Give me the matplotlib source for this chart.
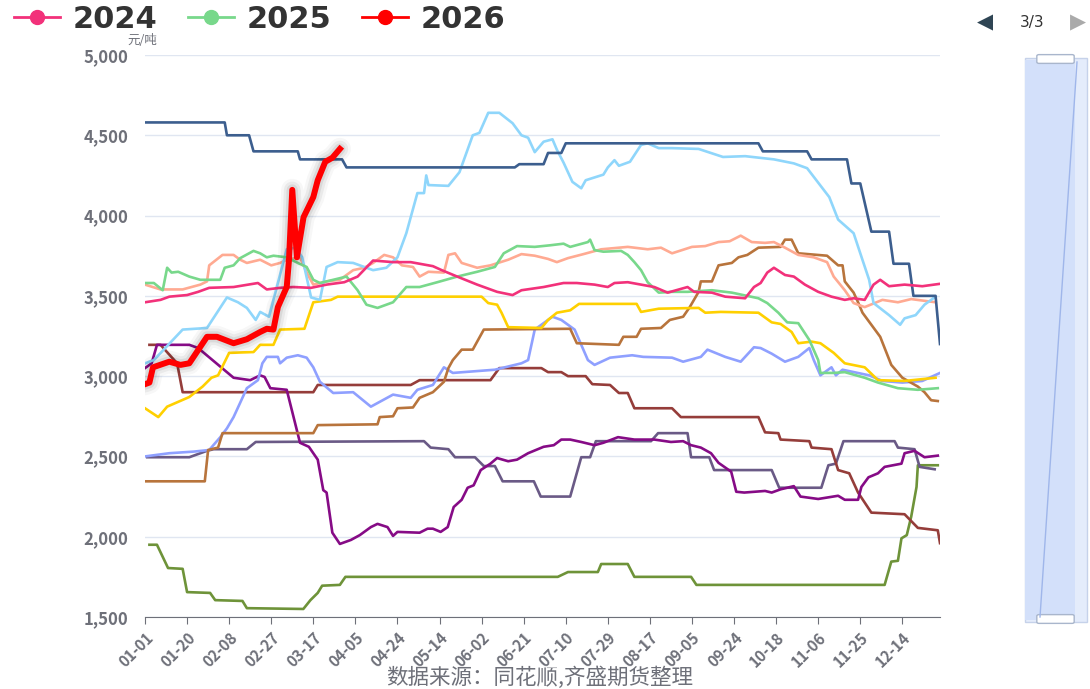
import matplotlib
matplotlib.use("Agg")
import matplotlib.pyplot as plt
from matplotlib.lines import Line2D
from matplotlib.patches import Rectangle, FancyBboxPatch

plt.rcParams['font.family'] = ['Noto Sans CJK SC', 'DejaVu Sans']

# x = trading-day index from 01-01 (360 categories), y = price (元/吨)
tick_pos = [0, 19, 38, 57, 76, 95, 114, 133, 152, 171, 190, 209, 228, 247, 266, 285, 304, 323, 342]
tick_labels = ['01-01', '01-20', '02-08', '02-27', '03-17', '04-05', '04-24', '05-14', '06-02',
               '06-21', '07-10', '07-29', '08-17', '09-05', '09-24', '10-18', '11-06', '11-25', '12-14']

navy = [(0, 4580), (36, 4580), (37, 4500), (47, 4500), (49, 4400), (69, 4400), (70, 4350), (89, 4350),
        (91, 4300), (167, 4300), (169, 4320), (180, 4320), (182, 4390), (188, 4390), (190, 4450),
        (277, 4450), (279, 4400), (299, 4400), (301, 4350), (317, 4350), (319, 4200), (323, 4200),
        (328, 3900), (336, 3900), (338, 3700), (345, 3700), (347, 3500), (357, 3500), (359, 3200)]

sky = [(0, 3080), (4, 3100), (17, 3290), (28, 3300), (37, 3490), (42, 3460), (46, 3425), (50, 3350),
       (52, 3400), (56, 3370), (64, 3790), (68, 3800), (71, 3740), (75, 3490), (79, 3475), (82, 3680),
       (87, 3710), (94, 3705), (103, 3660), (109, 3675), (114, 3740), (118, 3890), (123, 4140),
       (126, 4140), (127, 4250), (128, 4190), (137, 4185), (142, 4270), (148, 4500), (151, 4515),
       (155, 4640), (160, 4640), (166, 4575), (170, 4500), (173, 4485), (176, 4395), (180, 4460),
       (184, 4475), (186, 4410), (189, 4330), (193, 4210), (197, 4170), (199, 4220), (207, 4255),
       (209, 4300), (212, 4345), (214, 4310), (219, 4335), (224, 4440), (227, 4450), (232, 4420),
       (238, 4420), (250, 4415), (261, 4365), (271, 4370), (284, 4350), (293, 4325), (299, 4295),
       (304, 4205), (309, 4115), (313, 3975), (320, 3890), (323, 3765), (327, 3600), (329, 3455),
       (336, 3380), (341, 3320), (343, 3360), (348, 3380), (352, 3445), (357, 3495)]

salmon = [(0, 3570), (7, 3540), (17, 3540), (25, 3570), (28, 3590), (29, 3690), (35, 3755), (40, 3755),
          (43, 3725), (46, 3705), (52, 3725), (57, 3690), (61, 3705), (64, 3725), (70, 3740), (73, 3645),
          (76, 3570), (82, 3590), (88, 3600), (94, 3660), (99, 3675), (103, 3705), (108, 3755),
          (112, 3740), (116, 3690), (121, 3680), (124, 3620), (128, 3650), (135, 3645), (137, 3755),
          (140, 3765), (143, 3705), (150, 3675), (156, 3690), (164, 3725), (170, 3760), (176, 3750),
          (182, 3730), (186, 3710), (191, 3735), (198, 3760), (206, 3790), (218, 3805), (227, 3790),
          (233, 3800), (238, 3765), (247, 3805), (253, 3810), (259, 3835), (264, 3840), (269, 3875),
          (274, 3835), (280, 3830), (284, 3835), (289, 3800), (295, 3755), (302, 3740), (308, 3710),
          (311, 3620), (316, 3535), (320, 3455), (325, 3430), (333, 3475), (340, 3460), (346, 3480),
          (357, 3460)]

pink_2024 = [(0, 3460), (7, 3475), (11, 3495), (19, 3505), (24, 3525), (29, 3550), (40, 3555), (51, 3580),
             (55, 3540), (61, 3550), (67, 3555), (75, 3550), (82, 3570), (90, 3585), (96, 3620), (103, 3720),
             (112, 3710), (120, 3710), (130, 3685), (134, 3660), (141, 3620), (150, 3570), (159, 3525),
             (166, 3505), (170, 3535), (180, 3555), (189, 3580), (195, 3580), (203, 3570), (209, 3555),
             (212, 3580), (218, 3585), (224, 3570), (230, 3555), (236, 3520), (245, 3555), (248, 3525),
             (256, 3520), (262, 3495), (271, 3485), (275, 3555), (278, 3580), (281, 3645), (284, 3675),
             (289, 3630), (293, 3620), (298, 3570), (304, 3525), (310, 3495), (316, 3475), (320, 3485),
             (325, 3475), (329, 3570), (332, 3600), (336, 3560), (343, 3570), (351, 3560), (359, 3575)]

green_2025 = [(0, 3580), (4, 3580), (8, 3535), (10, 3675), (12, 3645), (15, 3650), (20, 3620), (25, 3600),
              (34, 3600), (36, 3675), (40, 3690), (43, 3735), (49, 3780), (52, 3765), (55, 3740), (58, 3750),
              (64, 3740), (69, 3705), (73, 3680), (76, 3600), (79, 3580), (85, 3600), (91, 3620), (96, 3535),
              (100, 3445), (105, 3425), (112, 3460), (118, 3555), (124, 3555), (132, 3585), (141, 3620),
              (150, 3650), (158, 3680), (162, 3765), (168, 3810), (176, 3805), (183, 3815), (189, 3825),
              (192, 3805), (200, 3835), (201, 3850), (203, 3785), (207, 3775), (215, 3780), (218, 3755),
              (221, 3710), (224, 3660), (227, 3585), (232, 3520), (238, 3525), (245, 3525), (256, 3535),
              (265, 3520), (277, 3485), (281, 3455), (286, 3395), (290, 3335), (295, 3330), (300, 3225),
              (304, 3100), (305, 3020), (311, 3020), (316, 3025), (325, 2990), (331, 2960), (340, 2925),
              (349, 2915), (358, 2925)]

yellow = [(0, 2800), (6, 2745), (10, 2810), (15, 2840), (20, 2870), (26, 2935), (30, 2990), (33, 3005),
          (38, 3145), (49, 3150), (52, 3195), (58, 3195), (61, 3290), (72, 3295), (76, 3460), (84, 3475),
          (87, 3495), (152, 3495), (155, 3455), (159, 3445), (161, 3395), (164, 3305), (179, 3300),
          (182, 3350), (186, 3395), (192, 3410), (196, 3450), (222, 3450), (224, 3400), (232, 3420),
          (250, 3425), (253, 3395), (260, 3400), (277, 3395), (283, 3335), (287, 3325), (292, 3275),
          (295, 3205), (301, 3215), (305, 3205), (311, 3145), (316, 3080), (325, 3055), (331, 2975),
          (343, 2970), (357, 2990)]

orange = [(0, 2345), (27, 2345), (28.5, 2540), (33, 2555), (35, 2645), (76, 2645), (78, 2695), (105, 2700),
          (106, 2745), (112, 2750), (114, 2800), (121, 2805), (124, 2865), (130, 2900), (135, 2965),
          (137, 3050), (139, 3100), (143, 3165), (148, 3165), (153, 3290), (192, 3295), (195, 3205),
          (214, 3195), (216, 3245), (222, 3245), (224, 3295), (233, 3300), (237, 3350), (243, 3370),
          (246, 3430), (250, 3525), (251, 3590), (256, 3590), (259, 3690), (265, 3705), (268, 3740),
          (272, 3755), (277, 3800), (287, 3805), (289, 3850), (292, 3850), (295, 3765), (308, 3750),
          (313, 3690), (315, 3690), (316, 3590), (320, 3520), (322, 3460), (324, 3395), (328, 3320),
          (332, 3245), (337, 3070), (342, 2990), (349, 2935), (352, 2900), (355, 2850), (358, 2845)]

periwinkle = [(0, 2500), (11, 2520), (22, 2530), (29, 2540), (34, 2620), (37, 2675), (40, 2745), (46, 2925),
              (51, 2975), (53, 3080), (55, 3120), (60, 3120), (61, 3080), (64, 3115), (69, 3130), (73, 3115),
              (76, 3055), (79, 2965), (85, 2895), (94, 2900), (102, 2810), (106, 2840), (112, 2885),
              (120, 2865), (123, 2915), (130, 2945), (135, 3055), (139, 3020), (158, 3040), (170, 3080),
              (173, 3100), (176, 3290), (180, 3330), (184, 3370), (188, 3350), (194, 3290), (200, 3100),
              (203, 3070), (210, 3115), (220, 3130), (225, 3120), (238, 3115), (243, 3090), (251, 3120),
              (254, 3165), (262, 3120), (269, 3090), (275, 3180), (278, 3175), (283, 3140), (289, 3090),
              (295, 3120), (300, 3175), (302, 3100), (305, 3005), (310, 3055), (312, 3005), (315, 3040),
              (327, 3005), (333, 2970), (342, 2960), (351, 2970), (359, 3020)]

darkred = [(2, 3195), (7, 3195), (14.5, 3080), (17, 2900), (24, 2900), (76, 2900), (78, 2945), (120, 2945),
           (124, 2975), (156, 2975), (160, 3050), (179, 3050), (182, 3025), (188, 3025), (191, 3000),
           (199, 3000), (202, 2950), (210, 2945), (214, 2895), (218, 2895), (221, 2800), (238, 2800),
           (242, 2745), (277, 2745), (280, 2650), (286, 2645), (287, 2605), (300, 2595), (301, 2555),
           (310, 2545), (313, 2415), (318, 2395), (322, 2275), (328, 2150), (343, 2140), (349, 2055),
           (358, 2040), (359, 1960)]

purple = [(0, 3050), (3, 3080), (5.4, 3195), (20, 3195), (24, 3175), (40, 2990), (47.5, 2975), (52, 3005),
          (54, 2995), (56.6, 2925), (64, 2915), (70, 2585), (74, 2560), (78, 2480), (80.5, 2290), (82, 2275),
          (84.6, 2025), (88, 1955), (93, 1980), (97, 2010), (102, 2060), (105, 2080), (109.5, 2060),
          (112, 2005), (114, 2030), (124, 2025), (127.6, 2050), (130, 2050), (133.5, 2030), (136.7, 2060),
          (139.4, 2185), (143, 2230), (145.7, 2305), (148.4, 2320), (151.6, 2415), (156, 2455), (159, 2490),
          (164, 2470), (168, 2480), (173, 2520), (180, 2560), (184.6, 2570), (188, 2605), (192, 2605),
          (197, 2590), (203, 2570), (207, 2585), (213.6, 2620), (221, 2605), (230, 2605), (237.5, 2590),
          (243, 2595), (246.6, 2570), (251, 2555), (255.6, 2520), (259, 2460), (264.7, 2405), (267, 2280),
          (270.6, 2275), (280, 2285), (283, 2275), (287, 2295), (293, 2315), (296, 2250), (304, 2235),
          (313, 2255), (316, 2230), (322, 2230), (323.5, 2310), (326.7, 2370), (331, 2395), (334, 2435),
          (341.6, 2455), (343, 2520), (347.5, 2535), (352, 2495), (358, 2505)]

slate = [(1, 2495), (20, 2495), (28, 2535), (31, 2545), (46, 2545), (50, 2590), (126, 2595), (129, 2555),
         (137, 2545), (140, 2495), (149, 2495), (153, 2440), (158, 2440), (161.5, 2345), (175.6, 2345),
         (178.7, 2250), (192, 2250), (197, 2495), (201, 2495), (203.6, 2595), (228.5, 2595), (231.7, 2645),
         (245, 2645), (246.6, 2495), (254.8, 2495), (257, 2415), (283, 2415), (286.4, 2305), (305.4, 2305),
         (308.6, 2445), (312, 2455), (315.4, 2595), (338.5, 2595), (340, 2555), (347.5, 2545), (349.8, 2435),
         (356.6, 2420)]

olive = [(2, 1950), (5.4, 1950), (10.4, 1805), (17, 1800), (19, 1655), (29.4, 1650), (31.7, 1605), (44, 1600),
         (46, 1555), (71.5, 1550), (74.7, 1605), (78, 1650), (80, 1695), (88, 1700), (90.5, 1750),
         (186.4, 1750), (191, 1780), (204.5, 1780), (206, 1830), (218, 1830), (221, 1750), (246.6, 1750),
         (249, 1700), (334, 1700), (337, 1845), (340, 1850), (341.6, 1990), (344, 2010), (346, 2125),
         (348.4, 2310), (349, 2445), (358, 2445)]

red_2026 = [(0, 2950), (2, 2960), (3.6, 3055), (11, 3090), (16, 3070), (20, 3080), (28, 3245), (32.5, 3245),
            (40, 3205), (46, 3230), (52, 3275), (55, 3295), (58, 3290), (60, 3430), (64, 3555), (65, 3720),
            (66.5, 4160), (68.6, 3740), (71.6, 3990), (76, 4115), (78, 4220), (81.4, 4335), (84.6, 4360),
            (88, 4415)]

C_PINK, C_GREEN, C_RED = '#f2317a', '#78d88b', '#ff0000'

fig = plt.figure(figsize=(10.9, 6.89), dpi=100)
ax = fig.add_axes([145 / 1090, 1 - 617 / 689, 795 / 1090, 562 / 689])

others = [(olive, '#6e9339'), (slate, '#6a5a86'), (darkred, '#953d3a'), (purple, '#860b86'),
          (periwinkle, '#8fa0ff'), (orange, '#b8743c'), (yellow, '#ffd000'), (salmon, '#ffaa92'),
          (sky, '#8fd6fb'), (navy, '#3c5e8e'), (green_2025, C_GREEN), (pink_2024, C_PINK)]
for pts, col in others:
    xs, ys = zip(*pts)
    ax.plot(xs, ys, color=col, lw=1.9, solid_joinstyle='round', zorder=3)

rx, ry = zip(*red_2026)
for w, a in [(16, 0.03), (12, 0.05), (8, 0.07)]:
    ax.plot(rx, ry, color='black', lw=w, alpha=a, solid_joinstyle='round', solid_capstyle='round', zorder=4)
ax.plot(rx, ry, color=C_RED, lw=4.3, solid_joinstyle='round', zorder=5)

ax.set_xlim(0, 359)
ax.set_ylim(1500, 5000)
ax.set_yticks(range(1500, 5001, 500))
ax.set_yticklabels([f'{v:,}' for v in range(1500, 5001, 500)])
ax.set_xticks(tick_pos)
ax.set_xticklabels(tick_labels, rotation=45, ha='right', va='top', rotation_mode='anchor')
ax.grid(axis='y', color='#e0e6f1', lw=1)
ax.set_axisbelow(True)
for s in ['top', 'right', 'left']:
    ax.spines[s].set_visible(False)
ax.spines['bottom'].set_color('#6e7079')
ax.tick_params(axis='y', length=0, pad=12, labelsize=12, labelcolor='#6e7079')
ax.tick_params(axis='x', length=5, color='#6e7079', pad=4, labelsize=11, labelcolor='#6e7079')
for lab in ax.get_xticklabels() + ax.get_yticklabels():
    lab.set_fontweight('bold')

fig.text(142 / 1090, 1 - 41 / 689, '元/吨', ha='center', va='center', fontsize=9, color='#6e7079')

handles = [Line2D([], [], color=c, lw=2, marker='o', markersize=10) for c in (C_PINK, C_GREEN, C_RED)]
fig.legend(handles, ['2024', '2025', '2026'], loc='upper left', bbox_to_anchor=(14 / 1090, 1 - 5 / 689),
           ncol=3, frameon=False, borderpad=0, borderaxespad=0, handlelength=1.5, handletextpad=0.42,
           columnspacing=1.0, prop={'family': 'DejaVu Sans', 'size': 22, 'weight': 'bold'},
           labelcolor='#333333')

fig.text(985 / 1090, 1 - 22 / 689, '◀', ha='center', va='center', fontsize=15, color='#2f4554',
         family='DejaVu Sans')
fig.text(1032 / 1090, 1 - 22 / 689, '3/3', ha='center', va='center', fontsize=11, color='#333333',
         family='DejaVu Sans')
fig.text(1078 / 1090, 1 - 22 / 689, '▶', ha='center', va='center', fontsize=15, color='#aaaaaa',
         family='DejaVu Sans')

# vertical data-zoom slider
fig.add_artist(Rectangle((1025 / 1090, 1 - 622 / 689), 62 / 1090, 564 / 689, transform=fig.transFigure,
                         facecolor='#e4ecfb', edgecolor='#c6d2ea', lw=1))
fig.add_artist(Rectangle((1025 / 1090, 1 - 620 / 689), 50 / 1090, 560 / 689, transform=fig.transFigure,
                         facecolor='#d3e0fa', edgecolor='none'))
fig.add_artist(Line2D([1077 / 1090, 1040 / 1090], [1 - 62 / 689, 1 - 617 / 689], transform=fig.transFigure,
                      color='#9fb6ea', lw=1))
for yy in (59, 619):
    fig.add_artist(FancyBboxPatch((1039 / 1090, 1 - (yy + 3) / 689), 33 / 1090, 6 / 689,
                                  boxstyle='round,pad=0.002', transform=fig.transFigure,
                                  facecolor='white', edgecolor='#a9b6cc', lw=1))

fig.text(540 / 1090, 1 - 678 / 689, '数据来源：同花顺,齐盛期货整理', ha='center', va='center',
         fontsize=15.5, color='#6e7079')

fig.savefig('out.png', dpi=100)
